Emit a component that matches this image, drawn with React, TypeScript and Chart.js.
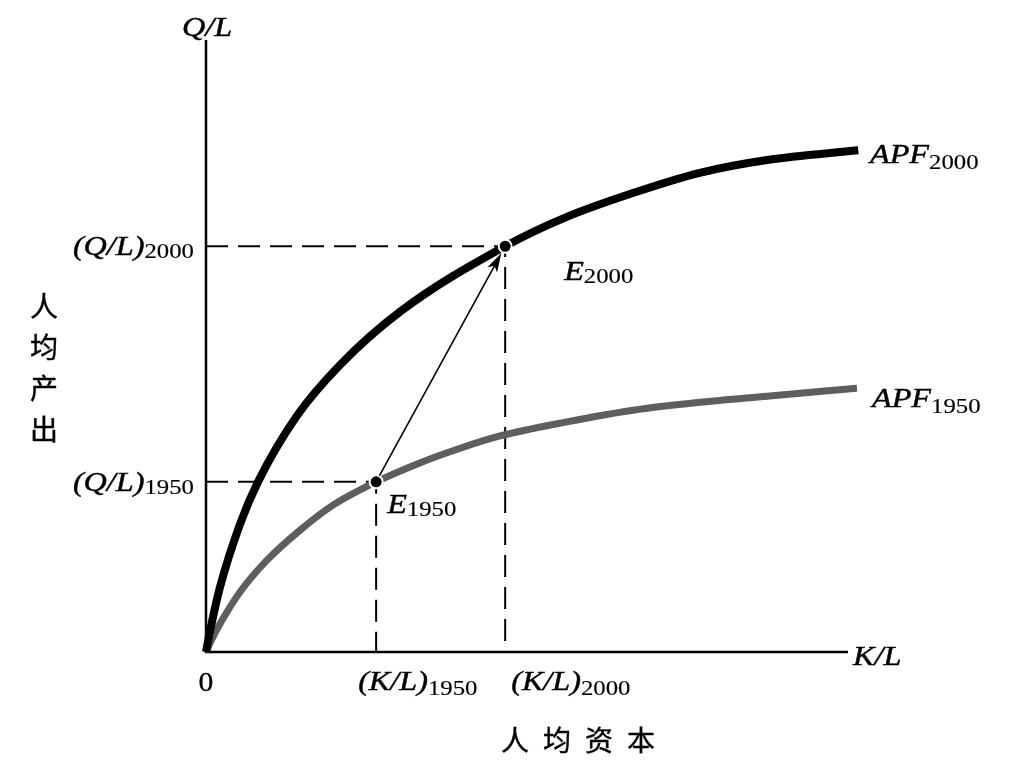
import React, { useEffect, useRef } from "react";
import { Chart, registerables } from "chart.js";

Chart.register(...registerables);

// ---- data (model units: x = K/L, y = Q/L) ----
const apf2000X = [0, 0.62, 2.18, 5.3, 8.1, 14.17, 20.87, 30.22, 46.6, 56.2, 66.5, 76.9, 87.4, 101.6];
const apf2000Y = [0, 3.4, 10.6, 20.9, 27.8, 38.6, 46.9, 55.6, 66.3, 71.1, 75.0, 78.3, 80.4, 82.0];
const apf1950X = [0, 0.78, 2.18, 5.3, 9.5, 14.64, 19.78, 26.5, 33.3, 39.6, 45.8, 56.2, 66.5, 76.9, 87.4, 101.4];
const apf1950Y = [0, 1.8, 4.6, 9.8, 15.0, 19.9, 24.0, 27.8, 30.9, 33.3, 35.3, 37.6, 39.5, 40.8, 41.8, 43.1];
const klTicks = [26.5, 46.6]; // (K/L)1950, (K/L)2000
const qlTicks = [27.8, 66.3]; // (Q/L)1950, (Q/L)2000
const years = ["1950", "2000"];
const axisMax = [100, 100];

const SERIF = '"Liberation Serif", "DejaVu Serif", serif';
const CJK = '"Noto Sans CJK SC", sans-serif';

type Part = { t: string; font: string; dy: number; sx: number; sw: number };

function rich(ctx: CanvasRenderingContext2D, x: number, y: number, parts: Part[], align: "left" | "right" | "center" = "left") {
  let total = 0;
  const widths = parts.map((p) => {
    ctx.font = p.font;
    const w = ctx.measureText(p.t).width * p.sx;
    total += w;
    return w;
  });
  let cx = align === "left" ? x : align === "right" ? x - total : x - total / 2;
  parts.forEach((p, i) => {
    ctx.save();
    ctx.font = p.font;
    ctx.textAlign = "left";
    ctx.textBaseline = "alphabetic";
    ctx.translate(cx, y + p.dy);
    ctx.scale(p.sx, 1);
    ctx.fillText(p.t, 0, 0);
    if (p.sw > 0) {
      ctx.lineWidth = p.sw;
      ctx.strokeText(p.t, 0, 0);
    }
    ctx.restore();
    cx += widths[i];
  });
}

const MAIN = `italic 28px ${SERIF}`;
const SUB = `21px ${SERIF}`;
const M = (t: string): Part => ({ t, font: MAIN, dy: 0, sx: 1.15, sw: 0.45 });
const S = (t: string, dy = 4): Part => ({ t, font: SUB, dy, sx: 1.18, sw: 0.15 });

const decor = {
  id: "decor",
  beforeDatasetsDraw(chart: any) {
    const ctx = chart.ctx as CanvasRenderingContext2D;
    const xs = chart.scales.x;
    const ys = chart.scales.y;
    const x0 = xs.getPixelForValue(0);
    const y0 = ys.getPixelForValue(0);
    ctx.save();
    ctx.strokeStyle = "#000";
    ctx.lineWidth = 2.5;
    ctx.beginPath();
    ctx.moveTo(x0, ys.getPixelForValue(axisMax[1]));
    ctx.lineTo(x0, y0);
    ctx.lineTo(xs.getPixelForValue(axisMax[0]), y0);
    ctx.stroke();
    ctx.restore();
  },
  afterDatasetsDraw(chart: any) {
    const ctx = chart.ctx as CanvasRenderingContext2D;
    const xs = chart.scales.x;
    const ys = chart.scales.y;
    const x0 = xs.getPixelForValue(0);
    const y0 = ys.getPixelForValue(0);
    ctx.save();
    ctx.fillStyle = "#000";
    ctx.strokeStyle = "#000";

    // arrow from E1950 to E2000
    const ax = xs.getPixelForValue(klTicks[0]);
    const ay = ys.getPixelForValue(qlTicks[0]);
    const bx0 = xs.getPixelForValue(klTicks[1]);
    const by0 = ys.getPixelForValue(qlTicks[1]);
    const ang = Math.atan2(by0 - ay, bx0 - ax);
    const bx = bx0 - Math.cos(ang) * 8;
    const by = by0 - Math.sin(ang) * 8;
    ctx.lineWidth = 1.6;
    ctx.beginPath();
    ctx.moveTo(ax + Math.cos(ang) * 7, ay + Math.sin(ang) * 7);
    ctx.lineTo(bx - Math.cos(ang) * 10, by - Math.sin(ang) * 10);
    ctx.stroke();
    const L = 19, W = 5.5;
    ctx.beginPath();
    ctx.moveTo(bx, by);
    ctx.lineTo(bx - L * Math.cos(ang) + W * Math.sin(ang), by - L * Math.sin(ang) - W * Math.cos(ang));
    ctx.lineTo(bx - L * 0.75 * Math.cos(ang), by - L * 0.75 * Math.sin(ang));
    ctx.lineTo(bx - L * Math.cos(ang) - W * Math.sin(ang), by - L * Math.sin(ang) + W * Math.cos(ang));
    ctx.closePath();
    ctx.fill();

    // axis titles
    rich(ctx, 182, 36, [M("Q/L")]);
    rich(ctx, 853, 665, [M("K/L")]);
    rich(ctx, x0, y0 + 39, [{ t: "0", font: `27px ${SERIF}`, dy: 0, sx: 1.1, sw: 0.3 }], "center");

    // y tick labels
    qlTicks.forEach((v, i) => {
      const py = ys.getPixelForValue(v);
      rich(ctx, x0 - 12, py + 9, [M("(Q/L)"), S(years[i], 3)], "right");
    });
    // x tick labels
    const xOff = [-18, 6];
    klTicks.forEach((v, i) => {
      const px = xs.getPixelForValue(v);
      rich(ctx, px + xOff[i], y0 + 38, [M("(K/L)"), S(years[i], 5)]);
    });

    // curve labels
    rich(ctx, 870, ys.getPixelForValue(apf2000Y[apf2000Y.length - 1]) + 13, [M("APF"), S("2000", 6)]);
    rich(ctx, 872, ys.getPixelForValue(apf1950Y[apf1950Y.length - 1]) + 19, [M("APF"), S("1950", 6)]);
    // point labels
    rich(ctx, xs.getPixelForValue(klTicks[1]) + 59, ys.getPixelForValue(qlTicks[1]) + 34, [M("E"), S("2000", 3)]);
    rich(ctx, xs.getPixelForValue(klTicks[0]) + 11, ys.getPixelForValue(qlTicks[0]) + 31, [M("E"), S("1950", 3)]);

    // Chinese axis names
    ctx.font = `28px ${CJK}`;
    ctx.textAlign = "center";
    ctx.textBaseline = "middle";
    ctx.lineWidth = 0.4;
    const yName = ["人", "均", "产", "出"];
    yName.forEach((c, i) => {
      ctx.fillText(c, 44, 306 + i * 41);
      ctx.strokeText(c, 44, 306 + i * 41);
    });
    const xName = ["人", "均", "资", "本"];
    xName.forEach((c, i) => {
      ctx.fillText(c, 515 + i * 42, 740);
      ctx.strokeText(c, 515 + i * 42, 740);
    });
    ctx.restore();
  },
};

export default function App() {
  const ref = useRef<HTMLCanvasElement | null>(null);
  useEffect(() => {
    if (!ref.current) return;
    const pts = (xs: number[], ys: number[]) => xs.map((x, i) => ({ x, y: ys[i] }));
    const dash = (i: number) => [
      { x: 0, y: qlTicks[i] },
      { x: klTicks[i], y: qlTicks[i] },
      { x: klTicks[i], y: 0 },
    ];
    const chart = new Chart(ref.current, {
      type: "scatter",
      data: {
        datasets: [
          { data: pts(klTicks, qlTicks), showLine: false, pointRadius: 6.5, pointBackgroundColor: "#000", pointBorderColor: "#fff", pointBorderWidth: 2, clip: false } as any,
          { data: pts(apf2000X, apf2000Y), showLine: true, borderColor: "#000", borderWidth: 8, pointRadius: 0, cubicInterpolationMode: "monotone", clip: false, borderCapStyle: "butt" } as any,
          { data: pts(apf1950X, apf1950Y), showLine: true, borderColor: "#5e5e5e", borderWidth: 7, pointRadius: 0, cubicInterpolationMode: "monotone", clip: false, borderCapStyle: "butt" } as any,
          { data: dash(0), showLine: true, borderColor: "#000", borderWidth: 2, borderDash: [22, 10], pointRadius: 0, tension: 0 },
          { data: dash(1), showLine: true, borderColor: "#000", borderWidth: 2, borderDash: [22, 10], pointRadius: 0, tension: 0 },
        ],
      },
      options: {
        animation: false,
        responsive: true,
        maintainAspectRatio: false,
        layout: { padding: { left: 206, right: 164, top: 40, bottom: 127 } },
        plugins: { legend: { display: false }, tooltip: { enabled: false } },
        scales: {
          x: { type: "linear", min: 0, max: axisMax[0], display: false },
          y: { type: "linear", min: 0, max: axisMax[1], display: false },
        },
        events: [],
      },
      plugins: [decor],
    });
    return () => chart.destroy();
  }, []);
  return (
    <div style={{ position: "fixed", left: 0, top: 0, width: 1012, height: 779, background: "#fff" }}>
      <canvas ref={ref} />
    </div>
  );
}
